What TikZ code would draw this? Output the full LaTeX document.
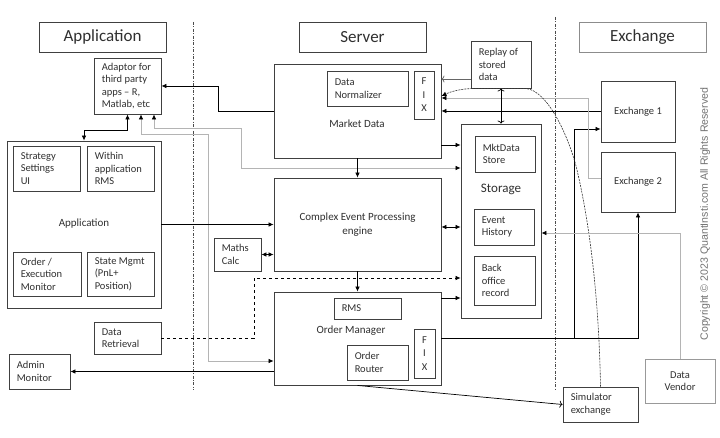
\documentclass[tikz,border=0pt]{standalone}
\usepackage{fontspec}
\setmainfont{Carlito}
\newfontfamily\cpfont{Liberation Sans}
\usetikzlibrary{arrows.meta}
\definecolor{bord}{HTML}{404040}
\definecolor{txt}{HTML}{303030}
\definecolor{lgray}{HTML}{B4B4B4}
\newcommand\mkbox[7][]{%
  \pgfmathsetmacro\bxw{#5-#3}%
  \pgfmathsetmacro\bxh{#6-#4}%
  \node[bx,minimum width=\bxw pt,minimum height=\bxh pt,#1] (#2) at ({(#3+#5)/2},{(#4+#6)/2}) {#7};}
\tikzset{
  bx/.style={draw=bord, line width=0.9pt, rectangle, inner sep=0pt, font=\fontsize{10.5}{12.5}\selectfont, text=txt},
  lbl/.style={inner sep=0pt, font=\fontsize{10.5}{12.5}\selectfont, text=txt},
  lt/.style={label={[lbl,align=left,anchor=west,xshift=8pt]west:#1}},
  big/.style={inner sep=0pt, font=\fontsize{11}{13.5}\selectfont, text=txt},
  ttl/.style={font=\fontsize{17}{20}\selectfont},
  fixs/.style={align=center, font=\fontsize{10.5}{13.5}\selectfont},
  conn/.style={line width=0.7pt, black},
  gconn/.style={line width=0.7pt, lgray},
  arr/.style={-{Latex[length=5pt,width=4.5pt,color=black]}},
  darr/.style={{Latex[length=5pt,width=4.5pt,color=black]}-{Latex[length=5pt,width=4.5pt,color=black]}},
  oarr/.style={-{To[length=3pt,width=7pt]}},
  doarr/.style={{To[length=3pt,width=7pt]}-{To[length=3pt,width=7pt]}},
  divider/.style={line width=0.7pt, black!70, dash pattern=on 3pt off 1.5pt on 0.8pt off 1.5pt},
  dcurve/.style={line width=0.6pt, black!80, dash pattern=on 2pt off 1pt},
}
\begin{document}
\begin{tikzpicture}[x=1pt,y=-1pt]
\fill[white] (0,0) rectangle (720,438);
\useasboundingbox (0,0) rectangle (720,438);

% dividers
\draw[divider] (193,22) -- (193,390);
\draw[divider] (555,17) -- (555,390);

% titles
\mkbox[ttl]{tApp}{39}{22}{166}{52}{Application}
\mkbox[ttl]{tSrv}{299}{22}{426}{52}{Server}
\mkbox[ttl,draw=black!45]{tExc}{579}{22}{706}{52}{Exchange}

% application side
\mkbox[lt={Adaptor for\\third party\\apps – R,\\Matlab, etc}]{adapt}{94}{58}{161}{114}{}
\mkbox{app}{7}{141}{161}{308}{}
\node[big] (appl) at (84,224) {Application};
\mkbox[lt={Strategy\\Settings\\UI}]{ssui}{13}{146}{80}{191}{}
\mkbox[lt={Within\\application\\RMS}]{warms}{87}{146}{154}{191}{}
\mkbox[lt={Order /\\Execution\\Monitor}]{oem}{13}{252}{81}{296}{}
\mkbox[lt={State Mgmt\\(PnL+\\Position)}]{smg}{87}{252}{154}{296}{}
\mkbox[lt={Data\\Retrieval}]{dr}{94}{322}{161}{354}{}
\mkbox[lt={Admin\\Monitor}]{adm}{9}{354}{70}{389}{}

% server side
\mkbox{md}{274}{64}{441}{158}{}
\mkbox[lt={Data\\Normalizer}]{dn}{327}{71}{408}{106}{}
\mkbox[fixs]{fix1}{414}{71}{434}{119}{F\\I\\X}
\node[big] (mdl) at (357,124) {Market Data};
\mkbox[align=center,font=\fontsize{11}{13.5}\selectfont]{cep}{274}{178}{441}{271}{Complex Event Processing\\engine}
\mkbox[lt={Maths\\Calc}]{maths}{214}{238}{261}{271}{}
\mkbox{om}{274}{292}{441}{385}{}
\mkbox[lt={RMS}]{rms}{334}{298}{401}{319}{}
\node[big] (oml) at (351,331) {Order Manager};
\mkbox[lt={Order\\Router}]{orr}{347}{345}{408}{380}{}
\mkbox[fixs]{fix2}{414}{329}{435}{378}{F\\I\\X}

\mkbox[lt={Replay of\\stored\\data}]{rep}{471}{41}{531}{88}{}
\mkbox{stor}{461}{124}{541}{318}{}
\node[lbl,font=\fontsize{13}{15}\selectfont] (storl) at (501,189) {Storage};
\mkbox[lt={MktData\\Store}]{mds}{475}{136}{535}{172}{}
\mkbox[lt={Event\\History}]{evh}{474}{209}{534}{245}{}
\mkbox[lt={Back\\office\\record}]{bor}{474}{256}{535}{305}{}

% exchange side
\mkbox{ex1}{601}{81}{675}{142}{Exchange 1}
\mkbox{ex2}{601}{152}{675}{212}{Exchange 2}
\mkbox[lt={Simulator\\exchange}]{sim}{563}{387}{638}{422}{}
\mkbox[draw=black!40,align=center]{dv}{645}{359}{715}{403}{Data\\Vendor}

\node[rotate=90, inner sep=0pt, font=\cpfont\fontsize{10.6}{12}\selectfont, text=black!55] (copy) at (705,214) {Copyright © 2023 QuantInsti.com All Rights Reserved};

% connectors
\draw[conn,arr] (md.west) -- (218,111) -- (218,86) -- (adapt.east);
\draw[conn,darr] (adapt.south) -- (127.5,130) -- (84,130) -- (app.north);
\draw[gconn,darr] ([xshift=13.5pt]adapt.south) -- (141,134) -- (208,134) -- (208,361) -- (om.west |- 0,361);
\draw[gconn,darr] ([xshift=26.5pt]adapt.south) -- (154,128) -- (241,128) -- (241,168) -- (stor.west |- 0,168);
\draw[conn,arr] (app.east) -- (cep.west);
\draw[conn,darr] (maths.east) -- (cep.west |- maths.east);
\draw[conn,arr] (md.south) -- (cep.north);
\draw[conn,arr] (cep.south) -- (om.north);
\draw[conn,arr,dashed] (dr.east) -- (254,338) -- (254,278) -- (stor.west |- 0,278);
\draw[conn,arr] (md.east |- 0,145) -- (stor.west |- 0,145);
\draw[conn,darr] (cep.east |- 0,227) -- (stor.west |- 0,227);
\draw[conn,arr] (om.east |- 0,298) -- (stor.west |- 0,298);
\draw[conn,arr] (om.west |- adm.east) -- (adm.east);
\draw[conn,arr] (om.east |- 0,338) -| (ex2.south);
\draw[conn,arr] (574,338) -- (574,129) -- (ex1.west |- 0,129);
\draw[conn,arr] (ex1.west |- 0,111) -- (md.east |- 0,111);
\draw[gconn,arr] (ex2.west |- 0,178) -- (588,178) -- (588,98) -- (md.east |- 0,98);
\draw[line width=0.7pt,black!60,oarr] (rep.west |- 0,79) -- (md.east |- 0,79);
\draw[conn,doarr] (rep.south -| 501,0) -- (stor.north -| 501,0);
\draw[dcurve,arr] (sim.north) .. controls (599,300) and (590,225) .. (577,170)
  .. controls (570,140) and (548,89) .. (525,88.5)
  -- (475,88.5) .. controls (460,88.5) and (450,92) .. ([yshift=15pt]md.east);
\draw[conn,oarr] (om.south) -- (sim.west);
\draw[gconn,arr] (dv.north) -- (680,233) -- (stor.east |- 0,233);
\end{tikzpicture}
\end{document}
